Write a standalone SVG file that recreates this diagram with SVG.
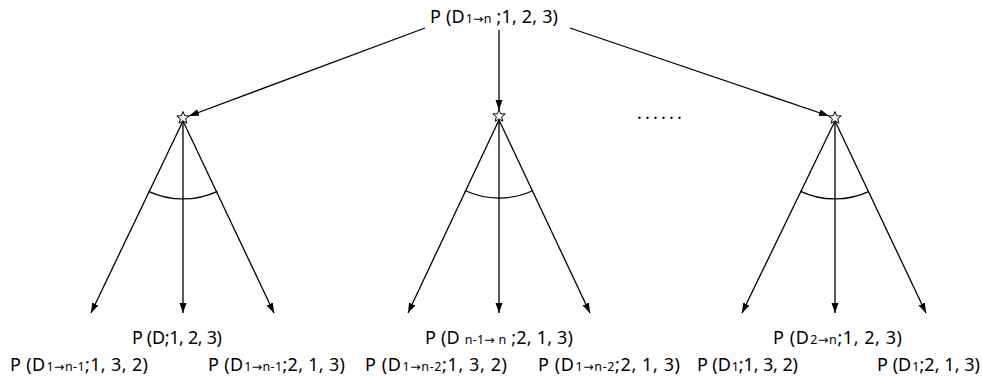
<svg xmlns="http://www.w3.org/2000/svg" width="982" height="377" viewBox="0 0 982 377">
<style>
  text { font-family: "Noto Sans", "DejaVu Sans", sans-serif; font-size: 18px; fill: #000; }
  .s { font-size: 12.5px; }
  .ln { stroke: #000; stroke-width: 1.3; fill: none; }
  .star { fill: #fff; stroke: #000; stroke-width: 1; }
</style>
<defs>
  <marker id="ah" markerUnits="userSpaceOnUse" markerWidth="11" markerHeight="8" refX="10" refY="3.5" orient="auto">
    <path d="M0,0 L10,3.5 L0,7 z" fill="#000"/>
  </marker>
  <polygon id="st" class="star" points="0,-6.5 1.65,-2.27 6.18,-2.01 2.66,0.87 3.82,5.26 0,2.8 -3.82,5.26 -2.66,0.87 -6.18,-2.01 -1.65,-2.27"/>
</defs>

<g id="connectors">
  <line class="ln" x1="425" y1="28" x2="189" y2="116" marker-end="url(#ah)"/>
  <line class="ln" x1="499" y1="30" x2="499" y2="110" marker-end="url(#ah)"/>
  <line class="ln" x1="570" y1="28" x2="829" y2="116" marker-end="url(#ah)"/>

  <line class="ln" x1="183" y1="121" x2="91" y2="313" marker-end="url(#ah)"/>
  <line class="ln" x1="183" y1="121" x2="183" y2="313" marker-end="url(#ah)"/>
  <line class="ln" x1="183" y1="121" x2="274" y2="313" marker-end="url(#ah)"/>
  <path class="ln" d="M148.6,191.3 A81,81 0 0 0 217.4,191.3"/>

  <line class="ln" x1="499" y1="120" x2="408" y2="313" marker-end="url(#ah)"/>
  <line class="ln" x1="499" y1="120" x2="499" y2="313" marker-end="url(#ah)"/>
  <line class="ln" x1="499" y1="120" x2="590" y2="313" marker-end="url(#ah)"/>
  <path class="ln" d="M464.9,190.5 A81,81 0 0 0 533.1,190.5"/>

  <line class="ln" x1="835" y1="121" x2="742" y2="313" marker-end="url(#ah)"/>
  <line class="ln" x1="835" y1="121" x2="835" y2="313" marker-end="url(#ah)"/>
  <line class="ln" x1="835" y1="121" x2="926" y2="313" marker-end="url(#ah)"/>
  <path class="ln" d="M800.1,191.1 A81,81 0 0 0 869.1,191.4"/>
</g>

<g id="root">
  <text x="430" y="23" textLength="128">P (D<tspan class="s" dx="1">1→n</tspan> ;1, 2, 3)</text>
</g>
<g id="star1"><use href="#st" x="183" y="118"/></g>
<g id="star2"><use href="#st" x="499" y="116"/></g>
<g id="star3"><use href="#st" x="835" y="118"/></g>
<g id="dots"><text x="637" y="119" letter-spacing="3.2">......</text></g>

<g id="l1m"><text x="132" y="344" textLength="90">P (D;1, 2, 3)</text></g>
<g id="l1a"><text x="10" y="371" textLength="138">P (D<tspan class="s" dx="1">1→n-1</tspan>;1, 3, 2)</text></g>
<g id="l1b"><text x="208" y="371" textLength="137">P (D<tspan class="s" dx="1">1→n-1</tspan>;2, 1, 3)</text></g>

<g id="l2m"><text x="425" y="344" textLength="148">P (D <tspan class="s">n-1→ n</tspan> ;2, 1, 3)</text></g>
<g id="l2a"><text x="365" y="371" textLength="142">P (D<tspan class="s" dx="1">1→n-2</tspan>;1, 3, 2)</text></g>
<g id="l2b"><text x="538" y="371" textLength="142">P (D<tspan class="s" dx="1">1→n-2</tspan>;2, 1, 3)</text></g>

<g id="l3m"><text x="773" y="344" textLength="129">P (D<tspan class="s" dx="1">2→n</tspan>;1, 2, 3)</text></g>
<g id="l3a"><text x="697" y="371" textLength="101">P (D<tspan class="s" dx="1">1</tspan>;1, 3, 2)</text></g>
<g id="l3b"><text x="877" y="371" textLength="103">P (D<tspan class="s" dx="1">1</tspan>;2, 1, 3)</text></g>
</svg>
